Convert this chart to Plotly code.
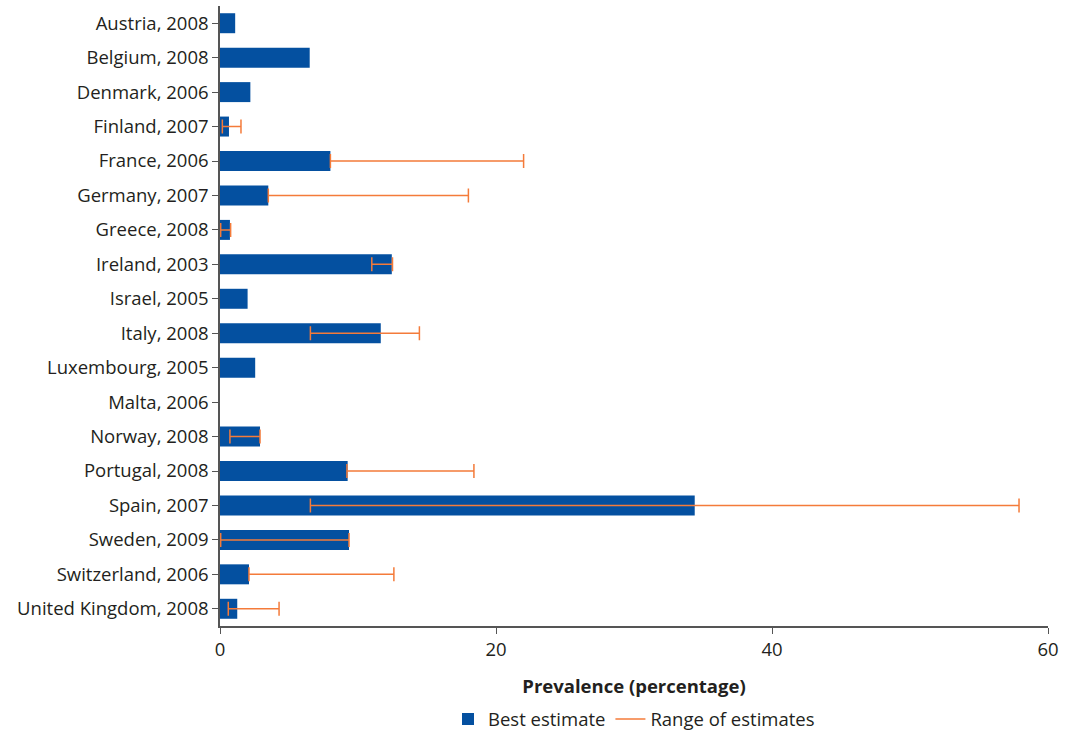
import plotly.graph_objects as go

categories = ["Austria, 2008", "Belgium, 2008", "Denmark, 2006", "Finland, 2007",
              "France, 2006", "Germany, 2007", "Greece, 2008", "Ireland, 2003",
              "Israel, 2005", "Italy, 2008", "Luxembourg, 2005", "Malta, 2006",
              "Norway, 2008", "Portugal, 2008", "Spain, 2007", "Sweden, 2009",
              "Switzerland, 2006", "United Kingdom, 2008"]
best = [1.1, 6.5, 2.2, 0.65, 8.0, 3.5, 0.72, 12.45, 2.0, 11.65, 2.55, 0.0,
        2.9, 9.25, 34.4, 9.35, 2.1, 1.25]
low = [None, None, None, 0.17, 8.0, 3.5, 0.05, 11.0, None, 6.55, None, None,
       0.72, 9.2, 6.55, 0.05, 2.1, 0.6]
high = [None, None, None, 1.52, 22.0, 18.0, 0.77, 12.5, None, 14.45, None, None,
        2.9, 18.4, 57.9, 9.35, 12.6, 4.28]
x_ticks = [0, 20, 40, 60]

BLUE = "#0450a0"
ORANGE = "#f47b3a"
TEXT = "#231f20"
FONT = "Open Sans"

err_x = [b if l is not None else None for b, l in zip(best, low)]
err_plus = [(h - b) if h is not None else 0 for b, h in zip(best, high)]
err_minus = [(b - l) if l is not None else 0 for b, l in zip(best, low)]

fig = go.Figure()
fig.add_trace(go.Bar(
    x=best, y=categories, orientation="h", marker=dict(color=BLUE, line=dict(width=0)),
    width=0.58, name="Best estimate", hoverinfo="x+y"))
fig.add_trace(go.Scatter(
    x=err_x, y=categories, mode="markers", marker=dict(size=1, color=ORANGE, opacity=0),
    error_x=dict(type="data", symmetric=False, array=err_plus, arrayminus=err_minus,
                 color=ORANGE, thickness=1.5, width=7),
    showlegend=False, name="Range of estimates"))
fig.add_trace(go.Scatter(
    x=[None], y=[None], mode="lines", line=dict(color=ORANGE, width=1.5),
    name="Range of estimates"))

fig.update_layout(
    width=1067, height=732,
    margin=dict(l=220, r=19, t=6, b=106),
    paper_bgcolor="white", plot_bgcolor="white",
    font=dict(family=FONT, size=19, color=TEXT),
    showlegend=True,
    legend=dict(orientation="h", xanchor="center", x=0.5, yref="container",
                y=0.017, yanchor="middle", font=dict(size=18.5), traceorder="normal"),
    bargap=0.4,
)
fig.update_xaxes(range=[0, 60], tickvals=x_ticks, showgrid=False, zeroline=False,
                 showline=True, linecolor="#555555", linewidth=1.5,
                 ticks="outside", ticklen=6, tickcolor="#555555",
                 tickfont=dict(size=18.5),
                 title=dict(text="<b>Prevalence (percentage)</b>", standoff=20,
                            font=dict(size=18.5)))
fig.update_yaxes(categoryorder="array", categoryarray=categories,
                 range=[len(categories) - 0.5, -0.5], tickfont=dict(size=18.5),
                 showgrid=False, zeroline=False, showline=True, linecolor="#555555",
                 linewidth=1.5, ticks="outside", ticklen=6, tickcolor="#555555")

fig.write_html("out.html", config={"displayModeBar": False},
               post_script="document.body.style.margin='0';")
